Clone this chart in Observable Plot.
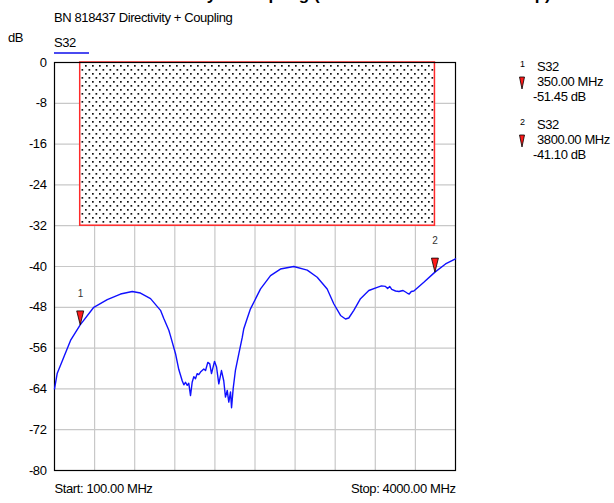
<!DOCTYPE html>
<html>
<head>
<meta charset="utf-8">
<script src="https://cdn.jsdelivr.net/npm/d3@7"></script>
<script src="https://cdn.jsdelivr.net/npm/@observablehq/plot@0.6"></script>
<style>
  body { margin: 0; background: #fff; }
  #wrap { position: relative; width: 614px; height: 503px; font-family: Arial, "Liberation Sans", sans-serif; color: #000; overflow: hidden; }
  .t { position: absolute; white-space: nowrap; font-size: 13px; letter-spacing: -0.4px; line-height: 1; }
  #chart { position: absolute; left: 0; top: 0; }
</style>
</head>
<body>
<div id="wrap">
  <div id="chart"></div>
  <div class="t" style="left:134px;top:-14px;font-size:17px;font-weight:bold;letter-spacing:0">Directivity + Coupling (Main Line Terminated Setup)</div>
  <div class="t" style="left:54px;top:11px;">BN 818437 Directivity + Coupling</div>
  <div class="t" style="left:8px;top:31px;">dB</div>
  <div class="t" style="left:54px;top:36px;">S32</div>
  <div style="position:absolute;left:54px;top:52px;width:35px;height:1.5px;background:#4a4af0"></div>
  <div id="legend"></div>
</div>
<script>
// ---- data ----
const freqMHz = [100,126,190,256,350,482,613,742,856,936,1034,1131,1163,1212,1228,1277,1309,1342,1358,1374,1391,1406,1423,1439,1455,1471,1488,1503,1520,1552,1569,1591,1610,1627,1656,1676,1698,1724,1746,1763,1780,1795,1812,1822,1838,1860,1893,1926,1941,1974,2006,2104,2201,2297,2427,2558,2655,2752,2816,2882,2930,2962,3011,3076,3157,3239,3280,3319,3340,3360,3380,3417,3450,3490,3530,3550,3570,3595,3692,3800,3903,4000];
const s32dB = [-64.0,-61.0,-57.8,-54.5,-51.45,-48.0,-46.5,-45.4,-44.9,-45.2,-46.3,-48.6,-50.2,-52.5,-53.6,-57.1,-60.2,-62.4,-63.2,-62.7,-63.3,-62.9,-65.3,-62.7,-61.6,-62.0,-61.0,-61.2,-60.7,-60.1,-60.4,-58.8,-59.1,-61.0,-58.6,-59.7,-63.0,-60.4,-62.4,-65.6,-64.3,-66.6,-64.6,-67.7,-63.9,-60.3,-57.1,-53.9,-52.2,-50.2,-48.3,-44.4,-41.8,-40.5,-40.0,-40.7,-42.1,-44.4,-47.3,-49.6,-50.3,-50.1,-48.6,-46.3,-44.7,-44.1,-43.8,-43.9,-44.3,-43.9,-44.5,-44.8,-44.9,-44.7,-45.2,-45.4,-44.9,-44.8,-43.1,-41.1,-39.5,-38.5];
const markerIds = ["1","2"];
const markerFreq = [350, 3800];
const markerdB = [-51.45, -41.10];
const markerFreqLabels = ["350.00 MHz","3800.00 MHz"];
const markerdBLabels = ["-51.45 dB","-41.10 dB"];
const limitFreq = [350, 3800];
const limitdB = [-32, 0];
const yTicks = [0,-8,-16,-24,-32,-40,-48,-56,-64,-72,-80];
const xGrid = [490,880,1270,1660,2050,2440,2830,3220,3610];
const startLabel = "Start: 100.00 MHz";
const stopLabel = "Stop: 4000.00 MHz";

const trace = freqMHz.map((f, i) => ({f, db: s32dB[i]}));
const markers = markerIds.map((n, i) => ({n, f: markerFreq[i], db: markerdB[i]}));
const limit = [{x1: limitFreq[0], x2: limitFreq[1], y1: limitdB[0], y2: limitdB[1]}];

const tri = { draw(ctx) { ctx.moveTo(-3.5, -14); ctx.lineTo(3.5, -14); ctx.lineTo(0, 0); ctx.closePath(); } };

const chart = Plot.plot({
  width: 614, height: 503,
  marginLeft: 54, marginRight: 159, marginTop: 62, marginBottom: 33,
  style: {fontFamily: "Arial, 'Liberation Sans', sans-serif", fontSize: "13px", color: "#000", background: "transparent", letterSpacing: "-0.4px"},
  x: {domain: [100, 4000], axis: null},
  y: {domain: [-80, 0], ticks: yTicks, tickSize: 0, tickPadding: 8, tickFormat: d => String(d), label: null},
  marks: [
    Plot.ruleX(xGrid, {stroke: "#c8c8c8", strokeWidth: 1.2}),
    Plot.ruleY(yTicks, {stroke: "#c8c8c8", strokeWidth: 1.2}),
    Plot.rect(limit, {x1: "x1", x2: "x2", y1: "y1", y2: "y2", fill: "url(#dots)", stroke: "#ff2a2a", strokeWidth: 1.5}),
    Plot.frame({stroke: "#000", strokeWidth: 1.2}),
    Plot.line(trace, {x: "f", y: "db", stroke: "#1010ff", strokeWidth: 1.4}),
    Plot.dot(markers, {x: "f", y: "db", symbol: tri, r: 5, fill: "#ff1a1a", stroke: "#000", strokeWidth: 0.8}),
    Plot.text(markers, {x: "f", y: "db", text: "n", dy: -31, fontSize: 10, fill: "#333"}),
    Plot.text([startLabel], {frameAnchor: "bottom-left", text: d => d, dy: 22, textAnchor: "start", fontSize: 13}),
    Plot.text([stopLabel], {frameAnchor: "bottom-right", text: d => d, dy: 22, textAnchor: "end", fontSize: 13})
  ]
});

const svg = d3.select(chart);
const pat = svg.insert("defs", ":first-child").append("pattern")
  .attr("id", "dots").attr("patternUnits", "userSpaceOnUse")
  .attr("width", 7).attr("height", 8);
pat.append("rect").attr("width", 7).attr("height", 8).attr("fill", "#fff");
pat.append("rect").attr("x", 1).attr("y", 1).attr("width", 1.7).attr("height", 1.7).attr("fill", "#111");
pat.append("rect").attr("x", 4.5).attr("y", 5).attr("width", 1.7).attr("height", 1.7).attr("fill", "#111");
document.getElementById("chart").appendChild(chart);

// legend
const lg = document.getElementById("legend");
const rows = [67, 125];
markerIds.forEach((n, i) => {
  const y = rows[i];
  lg.insertAdjacentHTML("beforeend",
    `<div class="t" style="left:520px;top:${y-7}px;font-size:9px;letter-spacing:0">${n}</div>` +
    `<div class="t" style="left:537px;top:${y-7}px;">S32</div>` +
    `<svg style="position:absolute;left:518px;top:${y+9}px" width="9" height="14"><path d="M1.5,1 L6.5,1 L4,13 Z" fill="#ff1a1a" stroke="#000" stroke-width="0.8"/></svg>` +
    `<div class="t" style="left:537px;top:${y+8}px;">${markerFreqLabels[i]}</div>` +
    `<div class="t" style="left:533px;top:${y+23}px;">${markerdBLabels[i]}</div>`);
});
</script>
</body>
</html>
